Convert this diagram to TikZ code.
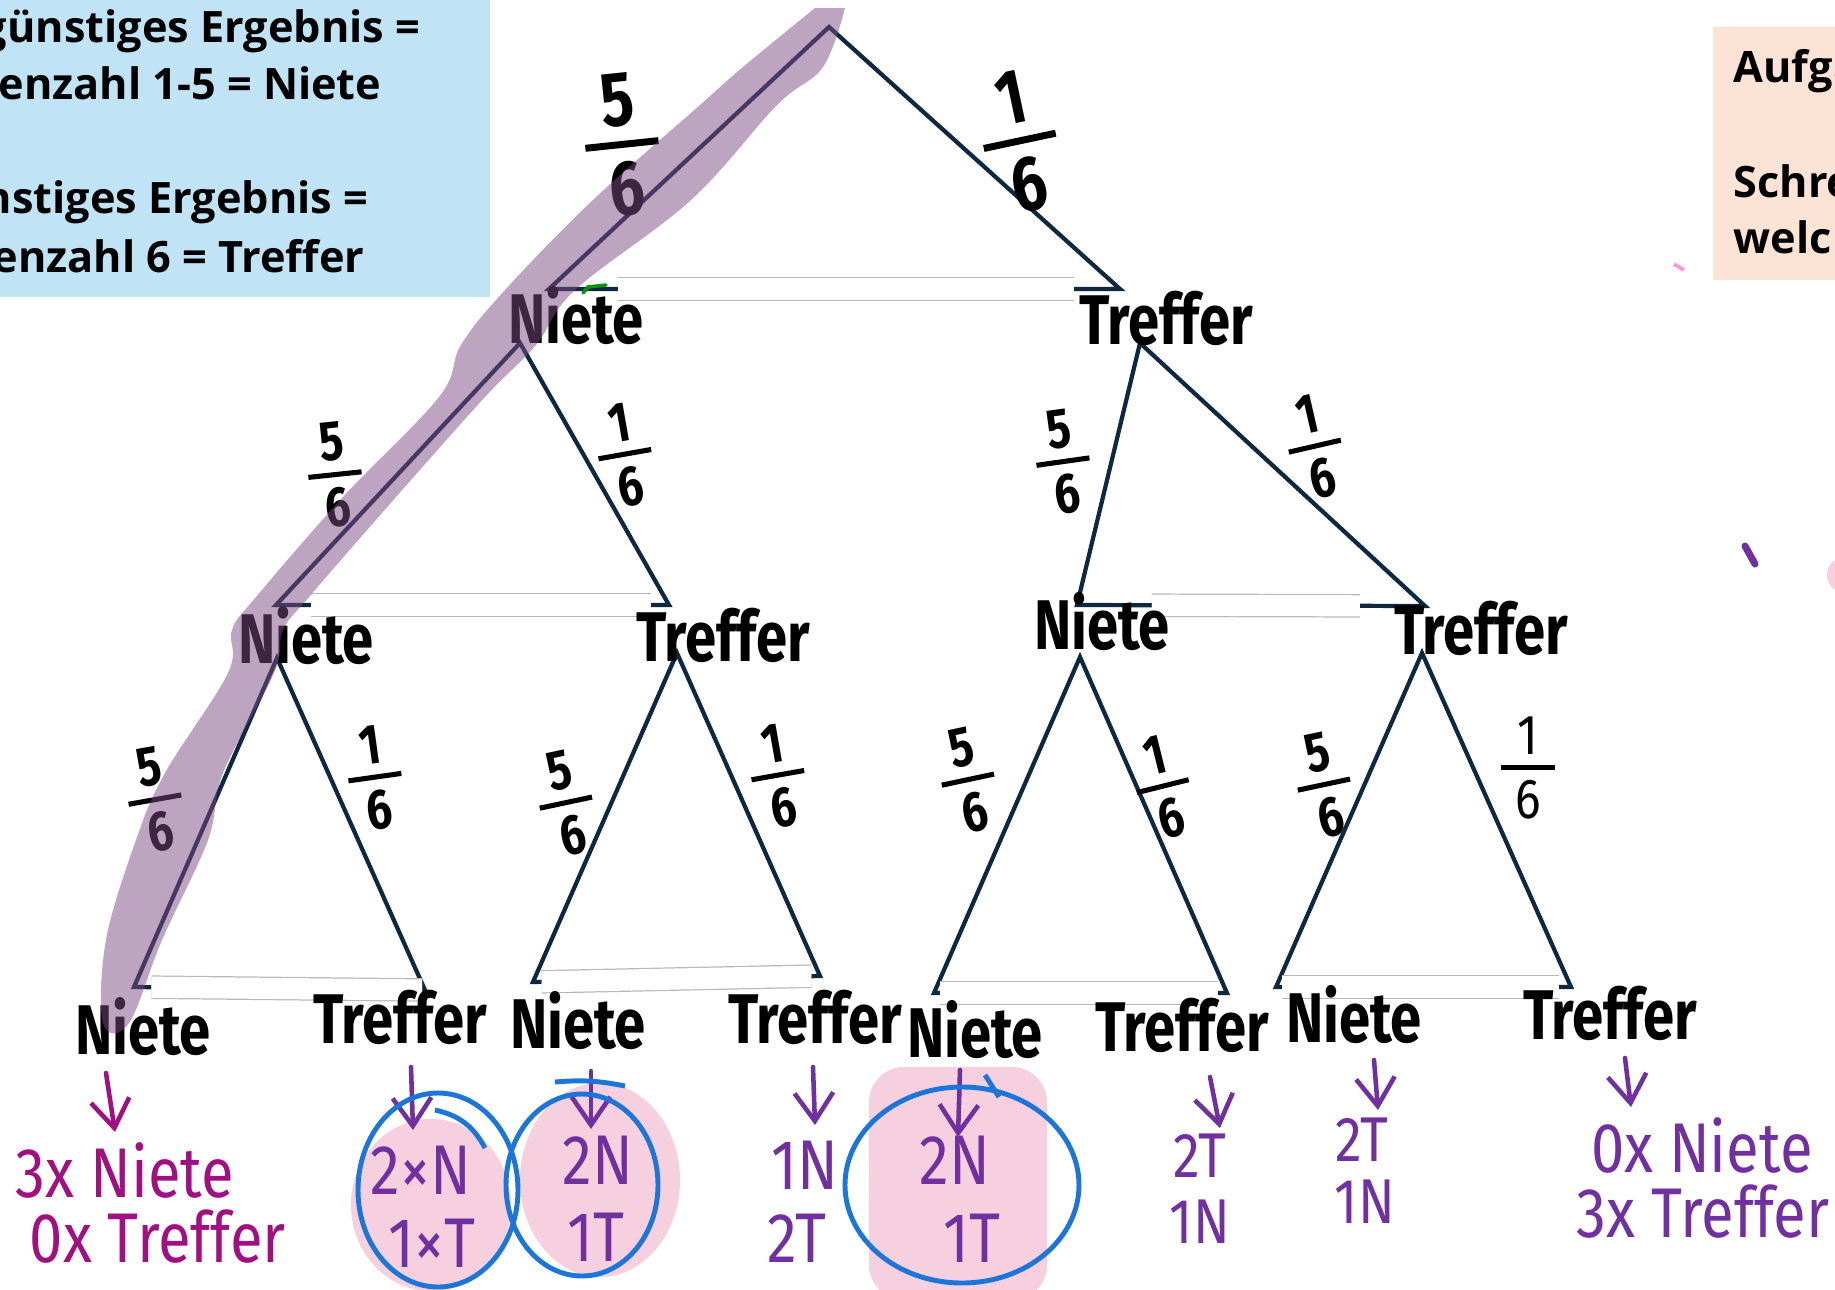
\documentclass[tikz,border=0pt]{standalone}
\usepackage{fontspec}
\usepackage{graphicx}
\setmainfont{Open Sans}
\newfontfamily\markfont[FakeStretch=0.8]{Fira Sans}
\newfontfamily\penfont[FakeStretch=0.85]{Fira Sans}
\usetikzlibrary{calc,arrows.meta}
\definecolor{treeblue}{RGB}{14,40,65}
\definecolor{skybox}{RGB}{192,228,245}
\definecolor{peachbox}{RGB}{251,227,214}
\definecolor{penviolet}{RGB}{112,48,160}
\definecolor{penmagenta}{RGB}{160,16,128}
\definecolor{ringblue}{RGB}{28,118,218}
\definecolor{blobpink}{RGB}{246,208,222}
\definecolor{bandviolet}{RGB}{125,75,130}
\newcommand\brk[3][0pt]{\shortstack{#2\\[#1]\rule{0.95em}{0.09em}\\[#1]#3}}
\begin{document}
\begin{tikzpicture}[x=0.01cm,y=-0.01cm,
    treeline/.style={draw=treeblue,line width=1.2pt,line join=miter},
    rubout/.style={draw=black!28,line width=0.35pt,double=white,double distance=6pt},
    leaflabel/.style={inner sep=0pt,font=\markfont\bfseries\fontsize{20}{24}\selectfont},
    fracnode/.style={inner sep=0pt,font=\markfont\bfseries\fontsize{16}{18}\selectfont},
    bigfrac/.style={fracnode,font=\markfont\bfseries\fontsize{22}{24}\selectfont},
    pennote/.style={inner sep=0pt,text=penviolet,font=\penfont\fontsize{20}{24}\selectfont},
    smallnote/.style={pennote,font=\penfont\fontsize{18}{20}\selectfont},
    penarrow/.style={draw=penviolet,line width=1.3pt,line cap=round,-{Straight Barb[length=8pt,width=11pt]}},
    bluering/.style={draw=ringblue,line width=1.4pt},
    pinkblob/.style={fill=blobpink},
    markband/.style={fill=bandviolet,fill opacity=0.5},
    boxline/.style={inner sep=0pt,font=\bfseries\fontsize{12.3}{14}\selectfont}]
\fill[white] (0,0) rectangle (1835,1290);
\useasboundingbox (0,0) rectangle (1835,1290);
\fill[skybox] (0,0) rectangle (490,297);
\fill[peachbox] (1713,27) rectangle (1850,280);
\node[boxline,anchor=base east] (rule1) at (421,42) {günstiges Ergebnis =};
\node[boxline,anchor=base east] (rule2) at (382,99) {enzahl 1-5 = Niete};
\node[boxline,anchor=base east] (rule3) at (369,213) {nstiges Ergebnis =};
\node[boxline,anchor=base east] (rule4) at (365,272) {enzahl 6 = Treffer};
\node[boxline,anchor=base west] (task1) at (1733,82) {Aufga};
\node[boxline,anchor=base west] (task2) at (1733,197) {Schre};
\node[boxline,anchor=base west] (task3) at (1733,253) {welc};
\coordinate (top) at (829,27);
\coordinate (n) at (549,289);
\coordinate (t) at (1120,289);
\coordinate (nA) at (520,343);
\coordinate (tA) at (1140,343);
\coordinate (nn) at (276,605);
\coordinate (nt) at (669,605);
\coordinate (tn) at (1077,605);
\coordinate (tt) at (1425,606);
\coordinate (nnA) at (277,658);
\coordinate (ntA) at (677,653);
\coordinate (tnA) at (1080,657);
\coordinate (ttA) at (1422,653);
\coordinate (nnn) at (134,987);
\coordinate (nnt) at (425,990);
\coordinate (ntn) at (533,982);
\coordinate (ntt) at (820,976);
\coordinate (tnn) at (934,993);
\coordinate (tnt) at (1227,993);
\coordinate (ttn) at (1276,987);
\coordinate (ttt) at (1571,987);
\draw[treeline] (top) -- (n) -- (t) -- cycle;
\draw[treeline] (nA) -- (nn) -- (nt) -- cycle;
\draw[treeline] (tA) -- (tn) -- (tt) -- cycle;
\draw[treeline] (nnA) -- (nnn) -- (nnt) -- cycle;
\draw[treeline] (ntA) -- (ntn) -- (ntt) -- cycle;
\draw[treeline] (tnA) -- (tnn) -- (tnt) -- cycle;
\draw[treeline] (ttA) -- (ttn) -- (ttt) -- cycle;
\draw[rubout] ($(n)!0.12!(t)$) -- ($(n)!0.92!(t)$);
\draw[rubout] ($(nn)!0.09!(nt)$) -- ($(nn)!0.955!(nt)$);
\draw[rubout] ($(tn)!0.215!(tt)$) -- ($(tn)!0.813!(tt)$);
\draw[rubout] ($(nnn)!0.06!(nnt)$) -- ($(nnn)!0.99!(nnt)$);
\draw[rubout] ($(ntn)!0.03!(ntt)$) -- ($(ntn)!0.97!(ntt)$);
\draw[rubout] ($(tnn)!0.02!(tnt)$) -- ($(tnn)!0.97!(tnt)$);
\draw[rubout] ($(ttn)!0.02!(ttt)$) -- ($(ttn)!0.96!(ttt)$);
\node[leaflabel] (lN) at (576,316) {Niete};
\node[leaflabel] (lT) at (1166,318) {Treffer};
\node[leaflabel] (lNN) at (306,636) {Niete};
\node[leaflabel] (lNT) at (723,635) {Treffer};
\node[leaflabel] (lTN) at (1102,622) {Niete};
\node[leaflabel] (lTT) at (1481,628) {Treffer};
\node[leaflabel] (lNNN) at (143,1027) {Niete};
\node[leaflabel] (lNNT) at (400,1017) {Treffer};
\node[leaflabel] (lNTN) at (578,1021) {Niete};
\node[leaflabel] (lNTT) at (815,1017) {Treffer};
\node[leaflabel] (lTNN) at (975,1030) {Niete};
\node[leaflabel] (lTNT) at (1182,1025) {Treffer};
\node[leaflabel] (lTTN) at (1354,1015) {Niete};
\node[leaflabel] (lTTT) at (1610,1013) {Treffer};
\node[bigfrac,rotate=6] (f1) at (622,145) {\brk[1pt]{5}{6}};
\node[bigfrac,rotate=12] (f2) at (1020,142) {\brk[1pt]{1}{6}};
\node[fracnode,rotate=6] (f3) at (335,475) {\brk{5}{6}};
\node[fracnode,rotate=10] (f4) at (625,455) {\brk{1}{6}};
\node[fracnode,rotate=8] (f5) at (1063,462) {\brk{5}{6}};
\node[fracnode,rotate=13] (f6) at (1315,447) {\brk{1}{6}};
\node[fracnode,rotate=10] (f7) at (155,800) {\brk{5}{6}};
\node[fracnode,rotate=8] (f8) at (375,778) {\brk{1}{6}};
\node[fracnode,rotate=12] (f9) at (566,803) {\brk{5}{6}};
\node[fracnode,rotate=10] (f10) at (778,776) {\brk{1}{6}};
\node[fracnode,rotate=12] (f11) at (968,780) {\brk{5}{6}};
\node[fracnode,rotate=14] (f12) at (1163,787) {\brk{1}{6}};
\node[fracnode,rotate=12] (f13) at (1324,785) {\brk{5}{6}};
\node[fracnode,font=\penfont\fontsize{16}{18}\selectfont] (f14) at (1528,768) {\brk{1}{6}};
\fill[markband] plot[smooth,tension=0.6] coordinates {(815,8) (743,67) (700,105) (593,200) (505,290) (461,345) (439,397) (343,497) (256,597) (232,630) (228,673) (165,773) (136,840) (106,940) (103,1023) (129,1023) (162,940) (208,840) (223,773) (274,673) (283,630) (309,597) (396,497) (485,397) (536,345) (575,290) (691,200) (777,105) (823,67) (845,8)} -- cycle;
\draw[green!60!black,line width=1pt,line cap=round] (583,293) -- (588,287) -- (606,285);
\fill[pinkblob] (431,1205) ellipse [x radius=80, y radius=86];
\fill[pinkblob] (600,1180) ellipse [x radius=80, y radius=97];
\fill[pinkblob,rounded corners=10pt] (869,1067) rectangle (1047,1300);
\fill[blobpink] (1845,575) circle [radius=18];
\node[pennote,text=penmagenta] (c1a) at (125,1170) {3x Niete};
\node[pennote,text=penmagenta] (c1b) at (158,1237) {0x Treffer};
\node[pennote] (c2a) at (421,1170) {2×N};
\node[pennote] (c2b) at (432,1243) {1×T};
\node[pennote] (c3a) at (598,1160) {2N};
\node[pennote] (c3b) at (596,1237) {1T};
\node[pennote] (c4a) at (805,1165) {1N};
\node[pennote] (c4b) at (797,1238) {2T};
\node[pennote] (c5a) at (955,1160) {2N};
\node[pennote] (c5b) at (972,1238) {1T};
\node[smallnote] (c6a) at (1200,1156) {2T};
\node[smallnote] (c6b) at (1200,1222) {1N};
\node[smallnote] (c7a) at (1362,1140) {2T};
\node[smallnote] (c7b) at (1365,1202) {1N};
\node[pennote] (c8a) at (1702,1145) {0x Niete};
\node[pennote] (c8b) at (1703,1212) {3x Treffer};
\coordinate (a1) at (106,1073); \coordinate (b1) at (115,1132);
\coordinate (a2) at (411,1067); \coordinate (b2) at (413,1130);
\coordinate (a3) at (591,1071); \coordinate (b3) at (591,1129);
\coordinate (a4) at (813,1067); \coordinate (b4) at (815,1125);
\coordinate (a5) at (960,1070); \coordinate (b5) at (958,1137);
\coordinate (a6) at (1210,1077); \coordinate (b6) at (1220,1128);
\coordinate (a7) at (1374,1060); \coordinate (b7) at (1378,1110);
\coordinate (a8) at (1625,1058); \coordinate (b8) at (1631,1107);
\draw[penarrow,draw=penmagenta] (a1) -- (b1);
\draw[penarrow] (a2) -- (b2);
\draw[penarrow] (a3) -- (b3);
\draw[penarrow] (a4) -- (b4);
\draw[penarrow] (a5) -- (b5);
\draw[penarrow] (a6) -- (b6);
\draw[penarrow] (a7) -- (b7);
\draw[penarrow] (a8) -- (b8);
\draw[bluering] (438,1190) ellipse [x radius=80, y radius=97];
\draw[bluering] (582,1185) ellipse [x radius=76, y radius=91];
\draw[bluering] (962,1185) ellipse [x radius=117, y radius=98];
\draw[bluering] (435,1110) to[bend left=25] (485,1148);
\draw[bluering] (555,1082) to[bend left=8] (625,1086);
\draw[bluering] (985,1075) -- (999,1097);
\draw[penviolet,line width=2pt,line cap=round] (1745,546) -- (1755,564);
\draw[blobpink!70!magenta,line width=1pt] (1674,264) -- (1684,270);
\end{tikzpicture}
\end{document}
